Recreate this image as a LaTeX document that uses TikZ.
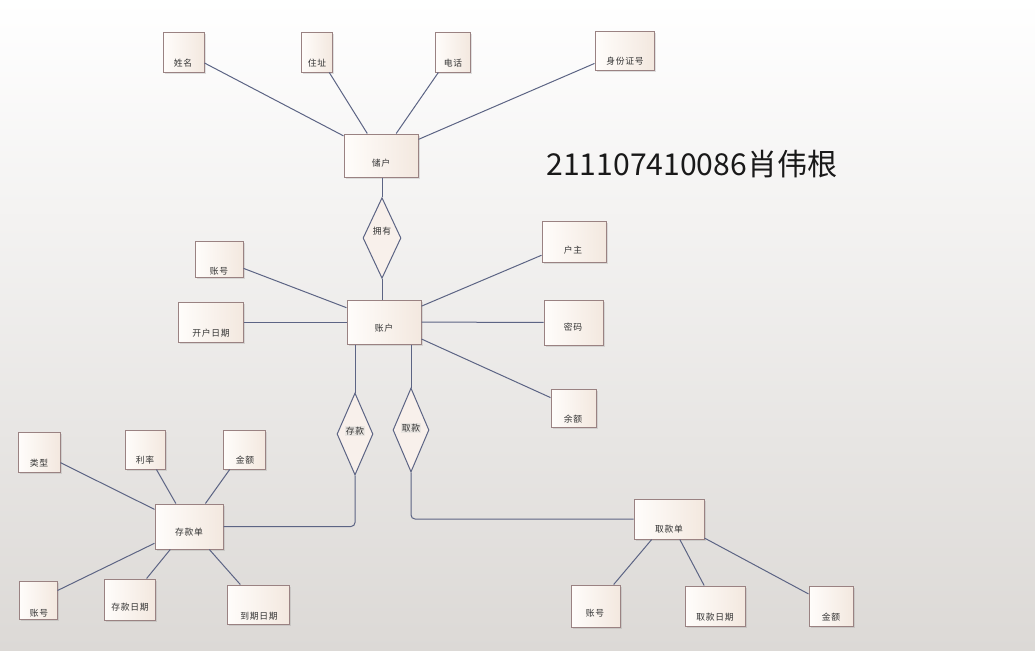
\documentclass[tikz,border=0pt]{standalone}
\usepackage{fontspec}
\setmainfont{Noto Sans CJK SC}
\newfontfamily\lblfont[LetterSpace=8]{Noto Sans CJK SC}
\usetikzlibrary{shapes.geometric,fit,shadows}
\definecolor{edgec}{HTML}{5C6484}
\definecolor{bord}{HTML}{9A8282}
\definecolor{fillL}{HTML}{FFFDFB}
\definecolor{fillR}{HTML}{F3E8DF}
\definecolor{dfill}{HTML}{F8F0EB}
\definecolor{bgbot}{HTML}{DCD9D6}
\definecolor{lblbg}{HTML}{E9E5E1}
\tikzset{
  ent/.style={draw=bord, line width=0.75pt, left color=fillL, right color=fillR, inner sep=0pt,
    drop shadow={shadow xshift=1.6pt, shadow yshift=-1.6pt, opacity=0.22}},
  rel/.style={diamond, draw=edgec, line width=0.75pt, fill=dfill, inner sep=0pt, aspect=0.5},
  lbl/.style={font=\lblfont\fontsize{6.6}{8}\selectfont, text=black!80, inner sep=0pt},
  conn/.style={draw=edgec, line width=0.75pt},
}
\newcommand\ent[8]{%
  \node[ent, fit={(#2,#3) (#4,#5)}] (#1) {};
  \node[lbl] (#1-t) at (#6,#7) {#8};}
\begin{document}
\begin{tikzpicture}[x=0.75pt,y=-0.75pt]
\path[top color=white, bottom color=bgbot] (0,0) rectangle (1035,650);
\useasboundingbox (0,0) rectangle (1035,650);

% entities and attributes
\ent{name}{163}{32}{204}{72}{183}{63}{姓名}
\ent{addr}{301}{32}{332}{72}{317}{63}{住址}
\ent{tel}{435}{32}{470}{72}{453}{63}{电话}
\ent{idn}{595}{31}{654}{70}{625}{61}{身份证号}
\ent{cust}{344}{134}{418}{177}{381}{163}{储户}
\ent{aid}{195}{241}{243}{277}{219}{271}{账号}
\ent{odate}{178}{302}{243}{342}{211}{333}{开户日期}
\ent{acct}{347}{300}{421}{344}{384}{328}{账户}
\ent{holder}{542}{221}{606}{262}{573}{250}{户主}
\ent{pwd}{544}{300}{603}{345}{573}{327}{密码}
\ent{bal}{551}{389}{596}{427}{573}{419}{余额}
\ent{dslip}{155}{504}{223}{549}{189}{532}{存款单}
\ent{type}{18}{432}{60}{472}{39}{463}{类型}
\ent{rate}{125}{430}{165}{469}{145}{460}{利率}
\ent{damt}{223}{430}{265}{469}{245}{460}{金额}
\ent{daid}{19}{581}{57}{619}{39}{613}{账号}
\ent{ddate}{104}{579}{155}{620}{130}{607}{存款日期}
\ent{due}{227}{585}{289}{624}{259}{616}{到期日期}
\ent{wslip}{634}{499}{704}{539}{669}{529}{取款单}
\ent{waid}{571}{585}{620}{627}{595}{613}{账号}
\ent{wdate}{685}{586}{745}{626}{715}{617}{取款日期}
\ent{wamt}{809}{586}{853}{626}{831}{617}{金额}

% relationships
\node[rel, minimum width=28.5pt, minimum height=60.5pt] (own) at (382,238) {};
\node[lbl] (own-t) at (382,231) {拥有};
\node[rel, minimum width=27pt, minimum height=61.5pt] (dep) at (355,434) {};
\node[lbl, fill=lblbg, inner sep=1pt] (dep-t) at (355,431) {存款};
\node[rel, minimum width=27pt, minimum height=63pt] (wd) at (411,430) {};
\node[lbl, fill=lblbg, inner sep=1pt] (wd-t) at (411,428) {取款};

% title
\node[font=\fontsize{22.6}{26}\selectfont, text=black!90, inner sep=0pt] (title) at (692,164) {211107410086肖伟根};

% connectors
\draw[conn] (name) -- (cust);
\draw[conn] (addr) -- (cust);
\draw[conn] (tel) -- (cust);
\draw[conn] (idn) -- (cust);
\draw[conn] (own.north |- cust.south) -- (own.north);
\draw[conn] (own.south) -- (own.south |- acct.north);
\draw[conn] (aid) -- (acct);
\draw[conn] (odate) -- (acct);
\draw[conn] (holder) -- (acct);
\draw[conn] (pwd) -- (acct);
\draw[conn] (bal) -- (acct);
\draw[conn] (acct.south -| dep.north) -- (dep.north);
\draw[conn] (acct.south -| wd.north) -- (wd.north);
\draw[conn, rounded corners=3pt] (dep.south) |- (dslip.east);
\draw[conn, rounded corners=3pt] (wd.south) |- (wslip.west);
\draw[conn] (type) -- (dslip);
\draw[conn] (rate) -- (dslip);
\draw[conn] (damt) -- (dslip);
\draw[conn] (daid) -- (dslip);
\draw[conn] (ddate) -- (dslip);
\draw[conn] (due) -- (dslip);
\draw[conn] (waid) -- (wslip);
\draw[conn] (wdate) -- (wslip);
\draw[conn] (wamt) -- (wslip);
\end{tikzpicture}
\end{document}
